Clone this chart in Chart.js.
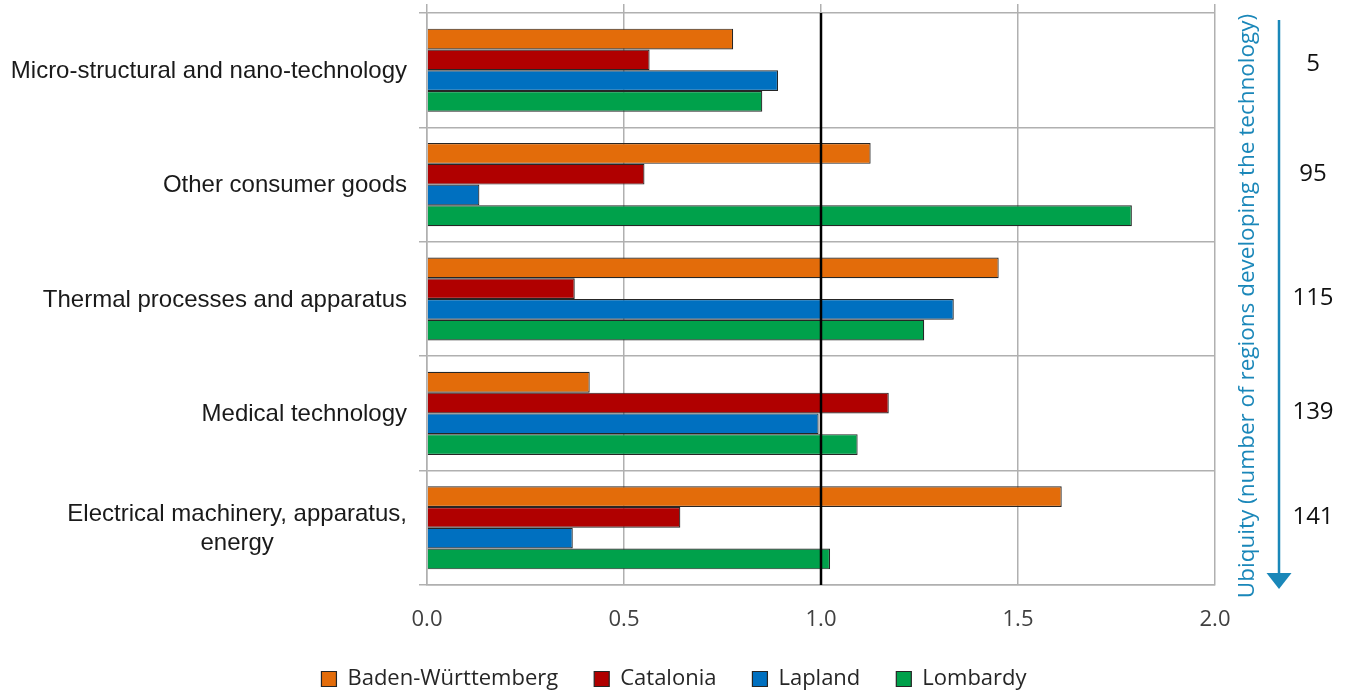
<!DOCTYPE html>
<html>
<head>
<meta charset="utf-8">
<script src="https://cdn.jsdelivr.net/npm/chart.js@4.4.1/dist/chart.umd.min.js"></script>
<style>
  html, body { margin: 0; padding: 0; background: #ffffff; overflow: hidden; }
  #wrap { width: 1348px; height: 697px; position: relative; }
</style>
</head>
<body>
<div id="wrap"><canvas id="c"></canvas></div>
<script>
// ---- data ----
const categories = [
  ['Micro-structural and nano-technology'],
  ['Other consumer goods'],
  ['Thermal processes and apparatus'],
  ['Medical technology'],
  ['Electrical machinery, apparatus,', 'energy']
];
const badenWurttemberg = [0.777, 1.126, 1.451, 0.413, 1.611];
const catalonia        = [0.565, 0.552, 0.375, 1.172, 0.643];
const lapland          = [0.891, 0.133, 1.337, 0.994, 0.370];
const lombardy         = [0.851, 1.789, 1.262, 1.093, 1.023];
const ubiquity         = [5, 95, 115, 139, 141];
const xTicks           = [0.0, 0.5, 1.0, 1.5, 2.0];
const referenceValue   = 1.0;
const sideTitle        = 'Ubiquity (number of regions developing the technology)';

// ---- styling (kept apart from data) ----
const seriesStyle = [
  { label: 'Baden-Württemberg', color: '#e36c0a' },
  { label: 'Catalonia',         color: '#b00000' },
  { label: 'Lapland',           color: '#0070c0' },
  { label: 'Lombardy',          color: '#00a14b' }
];
const seriesValues = [badenWurttemberg, catalonia, lapland, lombardy];
const ubiquityNudge = [-6, -10, -1, -1, -11];
const gridColor = '#b0b0b0';
const teal = '#1a87b9';

const catLabelPlugin = {
  id: 'catLabels',
  afterDraw(chart) {
    const ctx = chart.ctx, y = chart.scales.y, area = chart.chartArea;
    ctx.save();
    ctx.font = '24px "Liberation Sans", Arial, sans-serif';
    ctx.fillStyle = '#1a1a1a';
    ctx.textAlign = 'center';
    ctx.textBaseline = 'middle';
    const lh = 29;
    categories.forEach((lines, i) => {
      const cy = y.getPixelForValue(i);
      const maxW = Math.max(...lines.map(l => ctx.measureText(l).width));
      const cx = area.left - 20 - maxW / 2;
      const y0 = cy - (lines.length - 1) * lh / 2 + 1;
      lines.forEach((l, k) => ctx.fillText(l, cx, y0 + k * lh));
    });
    ctx.restore();
  }
};

const refLinePlugin = {
  id: 'refLine',
  afterDatasetsDraw(chart) {
    const ctx = chart.ctx, x = chart.scales.x, area = chart.chartArea;
    const px = x.getPixelForValue(referenceValue);
    ctx.save();
    ctx.strokeStyle = '#000000';
    ctx.lineWidth = 2.5;
    ctx.beginPath();
    ctx.moveTo(px, area.top);
    ctx.lineTo(px, area.bottom);
    ctx.stroke();
    ctx.restore();
  }
};

const sidePlugin = {
  id: 'side',
  afterDraw(chart) {
    const ctx = chart.ctx, y = chart.scales.y, area = chart.chartArea;
    ctx.save();
    // rotated title
    ctx.fillStyle = teal;
    ctx.font = '22.5px "Open Sans", sans-serif';
    ctx.textAlign = 'center';
    ctx.textBaseline = 'middle';
    ctx.translate(area.right + 33, (area.top + area.bottom) / 2 + 7);
    ctx.rotate(-Math.PI / 2);
    ctx.fillText(sideTitle, 0, 0);
    ctx.restore();

    // arrow
    ctx.save();
    const ax = area.right + 64;
    ctx.strokeStyle = teal;
    ctx.fillStyle = teal;
    ctx.lineWidth = 2.5;
    ctx.beginPath();
    ctx.moveTo(ax, area.top + 7);
    ctx.lineTo(ax, area.bottom - 8);
    ctx.stroke();
    ctx.beginPath();
    ctx.moveTo(ax - 12.5, area.bottom - 12);
    ctx.lineTo(ax + 12.5, area.bottom - 12);
    ctx.lineTo(ax, area.bottom + 4);
    ctx.closePath();
    ctx.fill();
    ctx.restore();

    // ubiquity numbers
    ctx.save();
    ctx.fillStyle = '#111111';
    ctx.font = '24px "Open Sans", sans-serif';
    ctx.textAlign = 'center';
    ctx.textBaseline = 'middle';
    ubiquity.forEach((v, i) => {
      ctx.fillText(String(v), area.right + 98, y.getPixelForValue(i) + ubiquityNudge[i]);
    });
    ctx.restore();
  }
};

new Chart(document.getElementById('c'), {
  type: 'bar',
  data: {
    labels: categories.map(l => l.join(' ')),
    datasets: seriesStyle.map((s, i) => ({
      label: s.label,
      data: seriesValues[i],
      backgroundColor: s.color,
      borderColor: '#262626',
      borderWidth: 1.2,
      categoryPercentage: 0.726,
      barPercentage: 1.0
    }))
  },
  options: {
    indexAxis: 'y',
    responsive: true,
    maintainAspectRatio: false,
    animation: false,
    layout: { padding: { top: 0, right: 0, left: 0, bottom: -3 } },
    plugins: {
      legend: {
        position: 'bottom',
        labels: {
          font: { family: '"Open Sans", sans-serif', size: 22 },
          color: '#262626',
          boxWidth: 15,
          boxHeight: 15,
          padding: 36
        }
      },
      tooltip: { enabled: false }
    },
    scales: {
      x: {
        type: 'linear',
        position: 'bottom',
        min: 0, max: 2,
        afterBuildTicks(scale) { scale.ticks = xTicks.map(v => ({ value: v })); },
        ticks: {
          callback: v => Number(v).toFixed(1),
          font: { family: '"Open Sans", sans-serif', size: 22 },
          color: '#404040',
          padding: 22
        },
        grid: { color: gridColor, lineWidth: 1.5, drawTicks: false },
        border: { color: gridColor, width: 1.5 },
        afterFit(scale) { scale.height = 47; }
      },
      x2: {
        type: 'linear',
        position: 'top',
        min: 0, max: 2,
        afterBuildTicks(scale) { scale.ticks = xTicks.map(v => ({ value: v })); },
        ticks: { display: false },
        grid: { color: gridColor, lineWidth: 1.5, drawOnChartArea: false, drawTicks: true, tickLength: 9 },
        border: { display: false },
        afterFit(scale) { scale.height = 13; }
      },
      y: {
        type: 'category',
        ticks: { display: false },
        grid: { offset: true, color: gridColor, lineWidth: 1.5, drawTicks: true, tickLength: 8 },
        border: { color: gridColor, width: 1.5 },
        afterFit(scale) { scale.width = 427; }
      },
      ySide: {
        type: 'linear',
        position: 'right',
        min: 0, max: 1,
        ticks: { display: false },
        grid: { display: false },
        border: { display: false },
        afterFit(scale) { scale.width = 133; }
      }
    }
  },
  plugins: [catLabelPlugin, refLinePlugin, sidePlugin]
});
</script>
</body>
</html>
